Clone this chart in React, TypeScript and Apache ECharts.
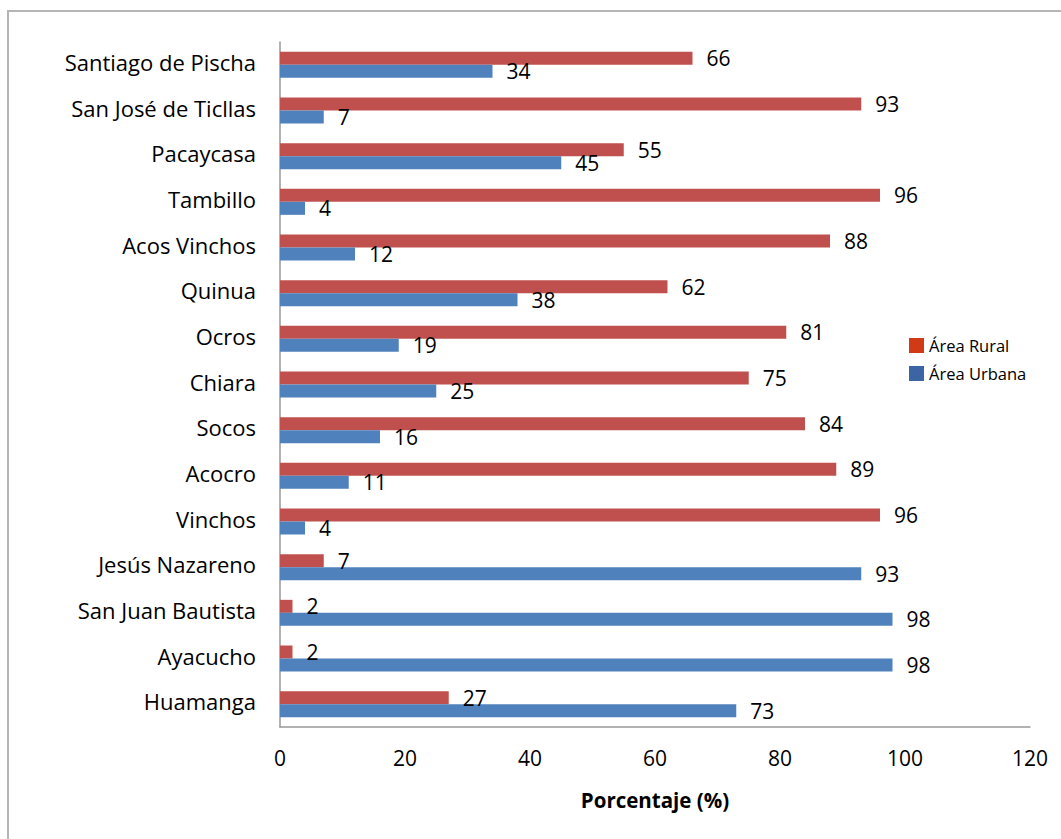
import React, { useEffect, useRef } from "react";
import * as echarts from "echarts";

const categories = [
  "Huamanga",
  "Ayacucho",
  "San Juan Bautista",
  "Jesús Nazareno",
  "Vinchos",
  "Acocro",
  "Socos",
  "Chiara",
  "Ocros",
  "Quinua",
  "Acos Vinchos",
  "Tambillo",
  "Pacaycasa",
  "San José de Ticllas",
  "Santiago de Pischa",
];
const ruralValues = [27, 2, 2, 7, 96, 89, 84, 75, 81, 62, 88, 96, 55, 93, 66];
const urbanValues = [73, 98, 98, 93, 4, 11, 16, 25, 19, 38, 12, 4, 45, 7, 34];
const xTicks = [0, 20, 40, 60, 80, 100, 120];

const FONT = "Open Sans";

export default function App() {
  const ref = useRef<HTMLDivElement>(null);
  useEffect(() => {
    document.body.style.margin = "0";
    const chart = echarts.init(ref.current!, null, { renderer: "svg" });
    const label = {
      show: true,
      position: "right" as const,
      distance: 14,
      fontFamily: FONT,
      fontSize: 21,
      color: "#000",
    };
    chart.setOption({
      animation: false,
      textStyle: { fontFamily: FONT },
      grid: { left: 280, right: 31, top: 42, bottom: 112, containLabel: false },
      legend: {
        orient: "vertical",
        left: 904,
        top: 332,
        itemWidth: 15,
        itemHeight: 15,
        itemGap: 11,
        icon: "rect",
        textStyle: { fontFamily: FONT, fontSize: 16.5, color: "#000" },
        data: [
          { name: "Área Rural", itemStyle: { color: "#D13A17" } },
          { name: "Área Urbana", itemStyle: { color: "#3C66A3" } },
        ],
      },
      xAxis: {
        type: "value",
        min: 0,
        max: 120,
        interval: 20,
        splitLine: { show: false },
        axisLine: { show: true, lineStyle: { color: "#999", width: 1.5 } },
        axisTick: { show: false },
        axisLabel: {
          fontFamily: FONT,
          fontSize: 21,
          color: "#000",
          margin: 20,
          formatter: (v: number) => (xTicks.includes(v) ? String(v) : ""),
        },
        name: "Porcentaje (%)",
        nameLocation: "middle",
        nameGap: 62,
        nameTextStyle: { fontFamily: FONT, fontSize: 20.5, fontWeight: "bold", color: "#000" },
      },
      yAxis: {
        type: "category",
        data: categories,
        axisLine: { show: true, lineStyle: { color: "#999", width: 1.5 } },
        axisTick: { show: false },
        axisLabel: {
          fontFamily: FONT,
          fontSize: 22,
          color: "#000",
          margin: 24,
          formatter: (v: string) => "{c|" + v + "}",
          rich: {
            c: {
              fontFamily: FONT,
              fontSize: 22,
              color: "#000",
              padding: [0, 0, 6, 0],
            },
          },
        },
      },
      series: [
        {
          name: "Área Rural",
          type: "bar",
          data: ruralValues,
          barWidth: 13,
          barGap: "0%",
          itemStyle: { color: "#C0504D" },
          label,
        },
        {
          name: "Área Urbana",
          type: "bar",
          data: urbanValues,
          barWidth: 13,
          barGap: "0%",
          itemStyle: { color: "#4F81BD" },
          label,
        },
      ],
      graphic: [
        {
          type: "rect",
          shape: { x: 8, y: 11, width: 1200, height: 1000 },
          style: { fill: "none", stroke: "#b5b5b5", lineWidth: 2 },
          silent: true,
        },
      ],
    });
    return () => chart.dispose();
  }, []);
  return <div ref={ref} style={{ width: 1061, height: 839 }} />;
}
